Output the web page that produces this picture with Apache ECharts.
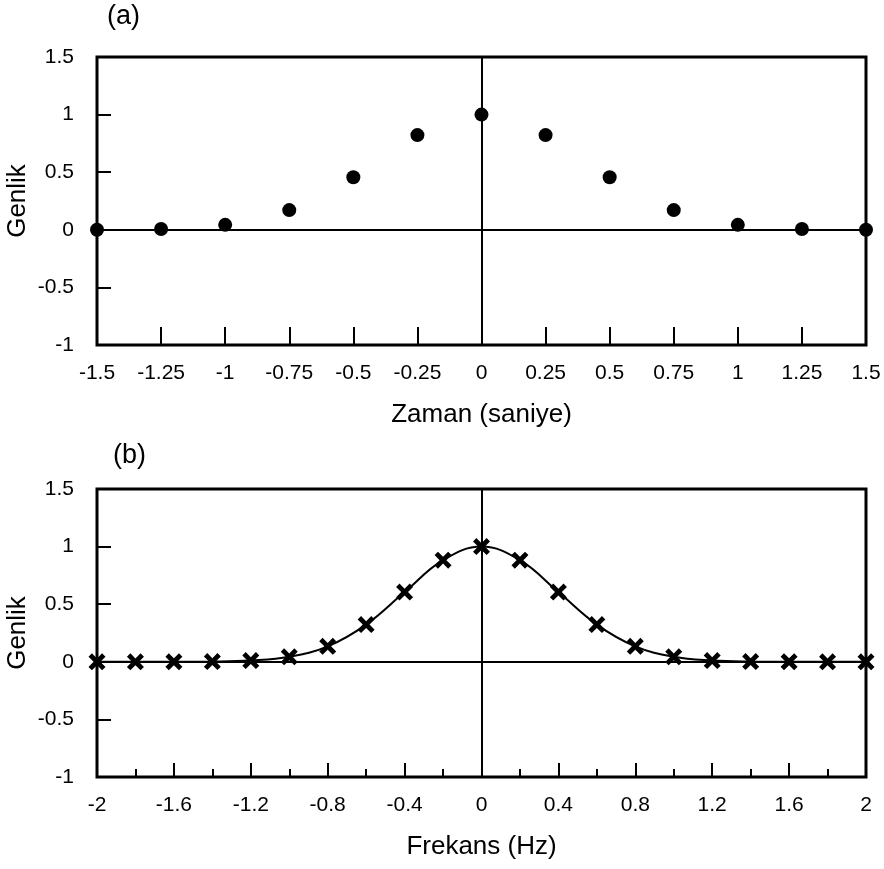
<!DOCTYPE html>
<html>
<head>
<meta charset="utf-8">
<script src="https://cdn.jsdelivr.net/npm/echarts@6/dist/echarts.min.js"></script>
<style>html,body{margin:0;padding:0;background:#fff;}#c{width:884px;height:869px;}</style>
</head>
<body>
<div id="c"></div>
<script>
// Panel (a): time-domain samples
var timeVals = [-1.5, -1.25, -1, -0.75, -0.5, -0.25, 0, 0.25, 0.5, 0.75, 1, 1.25, 1.5];
var timeAmp  = [0.001, 0.007, 0.043, 0.171, 0.456, 0.822, 1, 0.822, 0.456, 0.171, 0.043, 0.007, 0.001];
// Panel (b): frequency-domain samples
var freqVals = [-2, -1.8, -1.6, -1.4, -1.2, -1, -0.8, -0.6, -0.4, -0.2, 0, 0.2, 0.4, 0.6, 0.8, 1, 1.2, 1.4, 1.6, 1.8, 2];
var freqAmp  = [0, 0, 0.0003, 0.002, 0.011, 0.043, 0.134, 0.323, 0.605, 0.882, 1, 0.882, 0.605, 0.323, 0.134, 0.043, 0.011, 0.002, 0.0003, 0, 0];
var yTicks = {min: -1, max: 1.5, interval: 0.5};
var labelA = '(a)', labelB = '(b)';
var xNameA = 'Zaman (saniye)', xNameB = 'Frekans (Hz)', yName = 'Genlik';

function zip(a, b) { return a.map(function (v, i) { return [v, b[i]]; }); }

var FONT = 'Liberation Sans, Arial, sans-serif';
var FS = 21;
var NAME_FS = 26;
var crossPath = 'path://M0,2L2,0L5,3L8,0L10,2L7,5L10,8L8,10L5,7L2,10L0,8L3,5Z';

function xAxisCfg(idx, min, max, interval, name, tickLen, minor) {
  return {
    gridIndex: idx, type: 'value', min: min, max: max, interval: interval,
    name: name, nameLocation: 'middle', nameGap: 57, nameMoveOverlap: false,
    nameTextStyle: {fontFamily: FONT, fontSize: NAME_FS, color: '#000'},
    axisLine: {show: false, onZero: false},
    axisTick: {show: true, inside: true, length: tickLen, lineStyle: {color: '#000', width: 2}},
    minorTick: minor ? {show: true, splitNumber: 2, length: 8, lineStyle: {color: '#000', width: 2}} : {show: false},
    axisLabel: {fontFamily: FONT, fontSize: FS, color: '#000', margin: 18, showMinLabel: true, showMaxLabel: true},
    splitLine: {show: false}
  };
}
function yAxisCfg(idx) {
  return {
    gridIndex: idx, type: 'value', min: yTicks.min, max: yTicks.max, interval: yTicks.interval,
    name: yName, nameLocation: 'middle', nameGap: 66, nameRotate: 90, nameMoveOverlap: false,
    nameTextStyle: {fontFamily: FONT, fontSize: NAME_FS, color: '#000'},
    axisLine: {show: false, onZero: false},
    axisTick: {show: true, inside: true, length: 14, lineStyle: {color: '#000', width: 2}},
    axisLabel: {fontFamily: FONT, fontSize: FS, color: '#000', margin: 23},
    splitLine: {show: false}
  };
}
function zeroLines(idx) {
  return {
    type: 'line', xAxisIndex: idx, yAxisIndex: idx, data: [], z: 1, silent: true,
    markLine: {
      silent: true, symbol: ['none', 'none'], label: {show: false},
      lineStyle: {color: '#000', width: 2, type: 'solid'},
      animation: false,
      data: [{yAxis: 0}, {xAxis: 0}]
    }
  };
}

var chart = echarts.init(document.getElementById('c'), null, {renderer: 'canvas'});
chart.setOption({
  animation: false,
  backgroundColor: '#fff',
  grid: [
    {left: 97, right: 18, top: 57, height: 288, show: true, borderColor: '#000', borderWidth: 3, backgroundColor: 'transparent', containLabel: false, outerBoundsMode: 'none'},
    {left: 97, right: 18, top: 489, height: 288, show: true, borderColor: '#000', borderWidth: 3, backgroundColor: 'transparent', containLabel: false, outerBoundsMode: 'none'}
  ],
  graphic: [
    {type: 'text', left: 107, top: 3, style: {text: labelA, font: '27px ' + FONT, fill: '#000'}},
    {type: 'text', left: 113, top: 442, style: {text: labelB, font: '27px ' + FONT, fill: '#000'}}
  ],
  xAxis: [
    xAxisCfg(0, -1.5, 1.5, 0.25, xNameA, 18, false),
    xAxisCfg(1, -2, 2, 0.4, xNameB, 14, true)
  ],
  yAxis: [yAxisCfg(0), yAxisCfg(1)],
  series: [
    zeroLines(0),
    zeroLines(1),
    {
      type: 'scatter', xAxisIndex: 0, yAxisIndex: 0, z: 5,
      data: zip(timeVals, timeAmp), symbol: 'circle', symbolSize: 14,
      itemStyle: {color: '#000', opacity: 1}
    },
    {
      type: 'line', xAxisIndex: 1, yAxisIndex: 1, z: 5,
      data: zip(freqVals, freqAmp), smooth: 0.4,
      lineStyle: {color: '#000', width: 2},
      symbol: crossPath, symbolSize: 17, showAllSymbol: true,
      itemStyle: {color: '#000', opacity: 1}
    }
  ]
});
</script>
</body>
</html>
